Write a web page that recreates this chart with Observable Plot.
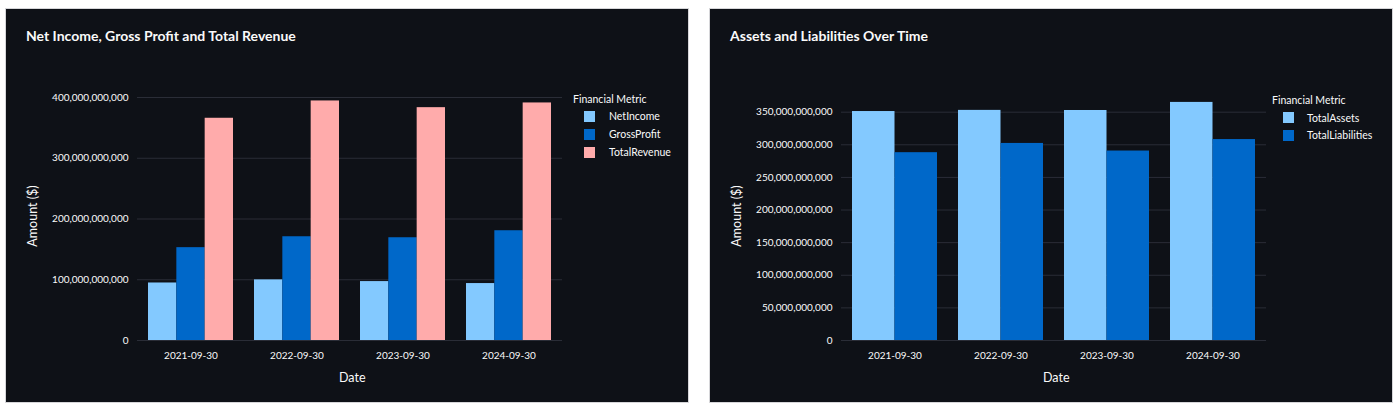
<!DOCTYPE html>
<html>
<head>
<meta charset="utf-8">
<script src="https://cdn.jsdelivr.net/npm/d3@7"></script>
<script src="https://cdn.jsdelivr.net/npm/@observablehq/plot@0.6"></script>
<style>
  body { margin: 0; background: #ffffff; width: 1400px; height: 413px; overflow: hidden;
         font-family: "Source Sans Pro", Lato, sans-serif; }
  .panel { position: absolute; top: 9px; width: 682px; height: 393px; background: #0e1117;
           box-shadow: 0 0 0 1px #d6d6d9; }
  .title { position: absolute; left: 20px; top: 18px; line-height: 18px; color: #fafafa;
           font-weight: 700; font-size: 14px; }
  .lg-title, .lg-row { position: absolute; color: #fafafa; font-size: 10.5px; line-height: 14px; white-space: nowrap; }
  .sw { position: absolute; width: 11px; height: 11px; }
  .axlabel { position: absolute; color: #fafafa; font-size: 12.5px; line-height: 16px; white-space: nowrap; }
  svg { position: absolute; left: 0; top: 0; }
</style>
</head>
<body>
<div class="panel" id="p1" style="left:6px"><div class="title">Net Income, Gross Profit and Total Revenue</div></div>
<div class="panel" id="p2" style="left:710px"><div class="title">Assets and Liabilities Over Time</div></div>
<script>
const dates = ["2021-09-30", "2022-09-30", "2023-09-30", "2024-09-30"];

const incomeMetrics = ["NetIncome", "GrossProfit", "TotalRevenue"];
const netIncome = [94.680e9, 99.803e9, 96.995e9, 93.736e9];
const grossProfit = [152.836e9, 170.782e9, 169.148e9, 180.683e9];
const totalRevenue = [365.817e9, 394.328e9, 383.285e9, 391.035e9];
const incomeTicks = [0, 100e9, 200e9, 300e9, 400e9];

const balanceMetrics = ["TotalAssets", "TotalLiabilities"];
const totalAssets = [351.002e9, 352.755e9, 352.583e9, 364.980e9];
const totalLiabilities = [287.912e9, 302.083e9, 290.437e9, 308.030e9];
const balanceTicks = [0, 50e9, 100e9, 150e9, 200e9, 250e9, 300e9, 350e9];

const palette = ["#83c9ff", "#0068c9", "#ffabab"];

const W = 682, H = 393, ML = 131, MR = 126, MT = 88, MB = 62;
const PAD_IN = 0.2, PAD_OUT = 0.1;

function toRows(metrics, series) {
  const rows = [];
  dates.forEach((d, i) => metrics.forEach((m, j) => rows.push({date: d, metric: m, value: series[j][i]})));
  return rows;
}

function chart(rows, metrics, yMax, ticks) {
  const n = metrics.length;
  const step = (W - ML - MR) / (dates.length - PAD_IN + 2 * PAD_OUT);
  const bw = step * (1 - PAD_IN);
  const w = bw / n;
  const bars = metrics.map((m, j) =>
    Plot.barY(rows.filter(r => r.metric === m), {
      x: "date", y: "value", fill: "metric",
      insetLeft: j * w, insetRight: (n - 1 - j) * w
    }));
  return Plot.plot({
    width: W, height: H,
    marginLeft: ML, marginRight: MR, marginTop: MT, marginBottom: MB,
    style: {background: "transparent", color: "#fafafa", fontFamily: "'Source Sans Pro', Lato, sans-serif", fontSize: "10px"},
    x: {domain: dates, paddingInner: PAD_IN, paddingOuter: PAD_OUT, label: null, tickSize: 0, tickPadding: 11},
    y: {domain: [0, yMax], ticks: ticks, tickFormat: d3.format(","), label: null, tickSize: 0, tickPadding: 9},
    color: {domain: metrics, range: palette.slice(0, n)},
    marks: [
      Plot.gridY(ticks, {stroke: "#2a2d37", strokeOpacity: 1}),
      ...bars
    ]
  });
}

function axisLabels(panel) {
  const d = document.createElement("div");
  d.className = "axlabel";
  d.textContent = "Date";
  panel.appendChild(d);
  d.style.left = ((ML + W - MR) / 2 + 3 - d.offsetWidth / 2) + "px";
  d.style.top = (369 - 8) + "px";
  const a = document.createElement("div");
  a.className = "axlabel";
  a.textContent = "Amount ($)";
  panel.appendChild(a);
  const aw = a.offsetWidth;
  a.style.left = (26 - aw / 2) + "px";
  a.style.top = (207 - 8) + "px";
  a.style.transform = "rotate(-90deg)";
  a.style.transformOrigin = "50% 50%";
}

function legend(panel, metrics, left, titleY, rowYs, swLeft, labelLeft) {
  const t = document.createElement("div");
  t.className = "lg-title";
  t.textContent = "Financial Metric";
  t.style.left = left + "px";
  t.style.top = (titleY - 7) + "px";
  panel.appendChild(t);
  metrics.forEach((m, i) => {
    const s = document.createElement("div");
    s.className = "sw";
    s.style.background = palette[i];
    s.style.left = swLeft + "px";
    s.style.top = (rowYs[i] - 5.5) + "px";
    panel.appendChild(s);
    const l = document.createElement("div");
    l.className = "lg-row";
    l.textContent = m;
    l.style.left = labelLeft + "px";
    l.style.top = (rowYs[i] - 7) + "px";
    panel.appendChild(l);
  });
}

const p1 = document.getElementById("p1");
const p2 = document.getElementById("p2");
p1.insertBefore(chart(toRows(incomeMetrics, [netIncome, grossProfit, totalRevenue]), incomeMetrics, 400e9, incomeTicks), p1.firstChild);
p2.insertBefore(chart(toRows(balanceMetrics, [totalAssets, totalLiabilities]), balanceMetrics, 372.5e9, balanceTicks), p2.firstChild);
axisLabels(p1);
axisLabels(p2);
legend(p1, incomeMetrics, 567, 90, [107, 125, 143], 578, 603);
legend(p2, balanceMetrics, 562, 91, [108.5, 126], 573, 597);
</script>
</body>
</html>
